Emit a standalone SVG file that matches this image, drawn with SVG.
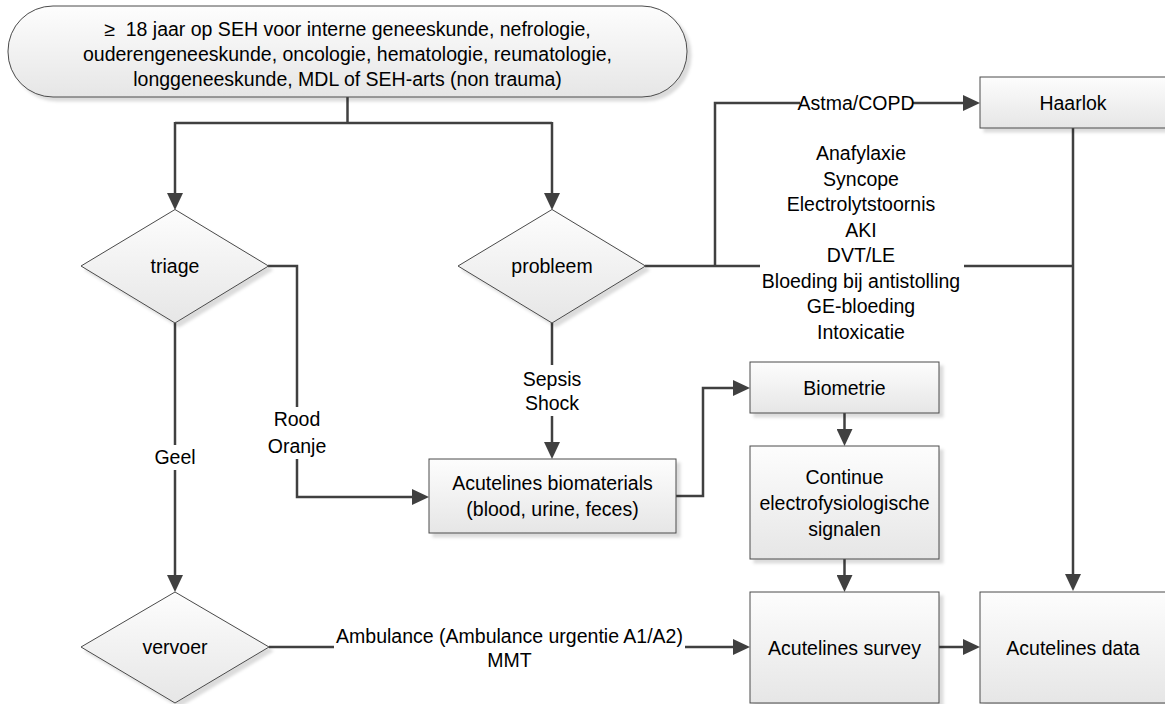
<svg xmlns="http://www.w3.org/2000/svg" width="1165" height="704" viewBox="0 0 1165 704">
<style>
  .node { fill: url(#g); stroke: #4a4a4a; stroke-width: 1; filter: url(#sh); }
  .t { font-family: "Liberation Sans", Arial, sans-serif; font-size: 19.5px; fill: #000; text-anchor: middle; dominant-baseline: central; }
  .c { fill: none; stroke: #404040; stroke-width: 2.5; }
  .a { marker-end: url(#ah); }
</style>
<defs>
  <linearGradient id="g" x1="0" y1="0" x2="0" y2="1">
    <stop offset="0" stop-color="#fdfdfd"/>
    <stop offset="1" stop-color="#e6e6e6"/>
  </linearGradient>
  <filter id="sh" x="-5%" y="-10%" width="115%" height="130%">
    <feGaussianBlur in="SourceAlpha" stdDeviation="1.5"/>
    <feOffset dx="4" dy="4" result="b"/>
    <feFlood flood-color="#000" flood-opacity="0.14"/>
    <feComposite in2="b" operator="in"/>
    <feMerge><feMergeNode/><feMergeNode in="SourceGraphic"/></feMerge>
  </filter>
  <marker id="ah" markerUnits="userSpaceOnUse" markerWidth="17" markerHeight="16" refX="9" refY="8" orient="auto">
    <path d="M0,0 L17,8 L0,16 z" fill="#404040"/>
  </marker>
</defs>

<g id="connectors">
  <path class="c" d="M347.5,97 V123"/>
  <path class="c" d="M175,123 H552"/>
  <path class="c a" d="M175,122 V202"/>
  <path class="c a" d="M552,122 V202"/>
  <path class="c" d="M175,323 V445"/>
  <path class="c a" d="M175,470 V584"/>
  <path class="c" d="M268,266 H297 V407"/>
  <path class="c a" d="M297,459 V497 H421"/>
  <path class="c" d="M552,323 V365"/>
  <path class="c a" d="M552,416 V451"/>
  <path class="c" d="M645,266 H760"/>
  <path class="c" d="M964,266 H1073"/>
  <path class="c" d="M715,266 V103 H800"/>
  <path class="c a" d="M912,103 H972"/>
  <path class="c a" d="M1073,128 V583"/>
  <path class="c a" d="M676,496 H703 V388 H742"/>
  <path class="c a" d="M844.5,413 V438"/>
  <path class="c a" d="M844.5,559 V584"/>
  <path class="c" d="M269,647 H334"/>
  <path class="c a" d="M685,647 H742"/>
  <path class="c a" d="M939,647 H972"/>
  <text class="t" x="175" y="457">Geel</text>
  <text class="t" x="297" y="419">Rood</text>
  <text class="t" x="297" y="446">Oranje</text>
  <text class="t" x="552" y="379">Sepsis</text>
  <text class="t" x="552" y="403">Shock</text>
  <text class="t" x="856" y="103">Astma/COPD</text>
  <text class="t" x="861" y="153">Anafylaxie</text>
  <text class="t" x="861" y="178.5">Syncope</text>
  <text class="t" x="861" y="204">Electrolytstoornis</text>
  <text class="t" x="861" y="229.5">AKI</text>
  <text class="t" x="861" y="255">DVT/LE</text>
  <text class="t" x="861" y="280.5">Bloeding bij antistolling</text>
  <text class="t" x="861" y="306">GE-bloeding</text>
  <text class="t" x="861" y="331.5">Intoxicatie</text>
  <text class="t" x="509.5" y="636">Ambulance (Ambulance urgentie A1/A2)</text>
  <text class="t" x="509.5" y="660">MMT</text>
</g>

<g id="start">
  <rect class="node" x="8" y="6" width="679" height="91" rx="45" ry="45"/>
  <text class="t" x="347.5" y="29">≥&#160; 18 jaar op SEH voor interne geneeskunde, nefrologie,</text>
  <text class="t" x="347.5" y="54">ouderengeneeskunde, oncologie, hematologie, reumatologie,</text>
  <text class="t" x="347.5" y="78.5">longgeneeskunde, MDL of SEH-arts (non trauma)</text>
</g>

<g id="triage">
  <polygon class="node" points="81,266 175,209.5 268.5,266 175,323"/>
  <text class="t" x="175" y="266">triage</text>
</g>

<g id="probleem">
  <polygon class="node" points="458,266 552,209.5 645.5,266 552,323"/>
  <text class="t" x="552" y="266">probleem</text>
</g>

<g id="vervoer">
  <polygon class="node" points="81,647 175,592 269,647 175,703"/>
  <text class="t" x="175" y="647">vervoer</text>
</g>

<g id="haarlok">
  <rect class="node" x="980" y="77" width="186" height="51"/>
  <text class="t" x="1073" y="102.5">Haarlok</text>
</g>

<g id="biomaterials">
  <rect class="node" x="429" y="459" width="247" height="74"/>
  <text class="t" x="552.5" y="483">Acutelines biomaterials</text>
  <text class="t" x="552.5" y="509">(blood, urine, feces)</text>
</g>

<g id="biometrie">
  <rect class="node" x="750" y="362" width="189" height="51"/>
  <text class="t" x="844.5" y="388">Biometrie</text>
</g>

<g id="continue">
  <rect class="node" x="750" y="446" width="189" height="113"/>
  <text class="t" x="844.5" y="477">Continue</text>
  <text class="t" x="844.5" y="503">electrofysiologische</text>
  <text class="t" x="844.5" y="529">signalen</text>
</g>

<g id="survey">
  <rect class="node" x="750" y="592" width="189" height="111"/>
  <text class="t" x="844.5" y="647.5">Acutelines survey</text>
</g>

<g id="data">
  <rect class="node" x="980" y="592" width="186" height="111"/>
  <text class="t" x="1073" y="647.5">Acutelines data</text>
</g>
</svg>
